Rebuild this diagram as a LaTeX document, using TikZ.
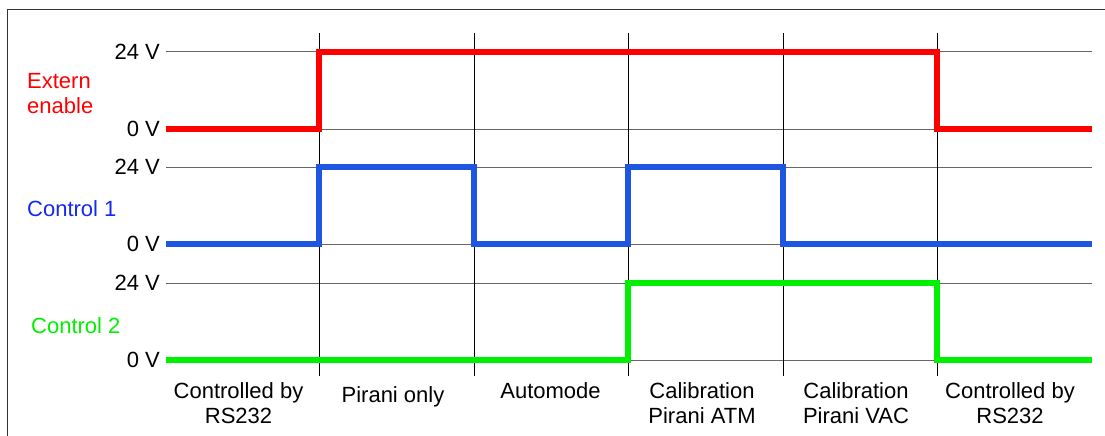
\documentclass[tikz,border=0pt]{standalone}
\usepackage{fontspec}
\setmainfont{Liberation Sans}
\begin{document}
\begin{tikzpicture}[x=1pt,y=-1pt,
  lbl/.style={font=\fontsize{22}{24.5}\selectfont, inner sep=0pt, align=center},
  volt/.style={lbl, anchor=base east},
  grid/.style={draw=black!60, line width=1pt},
  vline/.style={draw=black, line width=1pt},
  sig/.style={line width=6pt, line join=miter},
]
\definecolor{sred}{RGB}{255,0,0}
\definecolor{sblue}{RGB}{30,85,225}
\definecolor{sgreen}{RGB}{0,240,0}
\definecolor{tblue}{RGB}{20,40,240}
\useasboundingbox (0,0) rectangle (1105,436);
\draw[black!80, line width=1pt] (7,436) -- (7,10) -- (1105,10);
% coordinates
\foreach \n/\y in {r1/52,r0/129,b1/167,b0/244,g1/283,g0/360} {
  \coordinate (\n L) at (166,\y);
  \coordinate (\n R) at (1092,\y);
}
\foreach \i/\x in {1/319,2/474,3/628,4/783,5/937} {
  \coordinate (v\i t) at (\x,33);
  \coordinate (v\i b) at (\x,376);
}
% horizontal grid
\foreach \n in {r1,r0,b1,b0,g1,g0} \draw[grid] (\n L) -- (\n R);
% vertical grid
\foreach \i in {1,...,5} \draw[vline] (v\i t) -- (v\i b);
% voltage labels
\node[volt] (lr1) at (160,59.5) {24 V};
\node[volt] (lr0) at (160,136.5) {0 V};
\node[volt] (lb1) at (160,174.5) {24 V};
\node[volt] (lb0) at (160,251) {0 V};
\node[volt] (lg1) at (160,290.5) {24 V};
\node[volt] (lg0) at (160,367.5) {0 V};
% signal names
\node[lbl, text=sred, align=left, anchor=north west] (nr) at (27,73.5) {Extern\\enable};
\node[lbl, text=tblue, anchor=base west] (nb) at (27,216) {Control 1};
\node[lbl, text=sgreen, anchor=base west] (ng) at (31,333) {Control 2};
% signals
\draw[sig, sred] (r0L) -- (319,129) -- (319,52) -- (937,52) -- (937,129) -- (r0R);
\draw[sig, sblue] (b0L) -- (319,244) -- (319,167) -- (474,167) -- (474,244) -- (628,244) -- (628,167) -- (783,167) -- (783,244) -- (b0R);
\draw[sig, sgreen] (g0L) -- (628,360) -- (628,283) -- (937,283) -- (937,360) -- (g0R);
% phase labels
\node[lbl, anchor=north] (p1) at (238.5,382.5) {Controlled by\\RS232};
\node[lbl, anchor=base] (p2) at (393,402) {Pirani only};
\node[lbl, anchor=base] (p3) at (550.5,398) {Automode};
\node[lbl, anchor=north] (p4) at (702,382.5) {Calibration\\Pirani ATM};
\node[lbl, anchor=north] (p5) at (856,382.5) {Calibration\\Pirani VAC};
\node[lbl, anchor=north] (p6) at (1010,382.5) {Controlled by\\RS232};
\end{tikzpicture}
\end{document}
